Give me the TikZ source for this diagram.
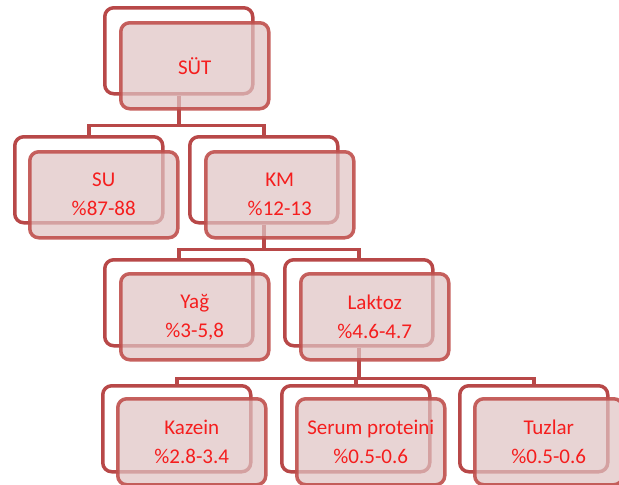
\documentclass[tikz,border=0pt]{standalone}
\usepackage{fontspec}
\setmainfont{Carlito}
\definecolor{backred}{RGB}{184,72,72}
\definecolor{frontred}{RGB}{192,80,77}
\definecolor{frontfill}{RGB}{224,196,196}
\definecolor{txtred}{RGB}{245,30,30}
\begin{document}
\begin{tikzpicture}[x=1pt,y=-1pt,
  backbox/.style={draw=backred, line width=3.5pt, fill=white, rounded corners=9pt,
    minimum width=148pt, minimum height=86pt, inner sep=0pt, anchor=north west},
  frontbox/.style={draw=frontred, draw opacity=0.9, line width=3.5pt, fill=frontfill,
    fill opacity=0.72, text opacity=1, rounded corners=9pt, text=txtred,
    minimum width=148pt, minimum height=86pt, inner sep=0pt, anchor=north west,
    align=center, font=\fontsize{21}{29}\selectfont},
  conn/.style={draw=backred, line width=3.5pt}]
\useasboundingbox (0,0) rectangle (619,485);
\clip (0,0) rectangle (619,485);

% back (outline) boxes
\node[backbox] (sutB) at (103,6) {};
\node[backbox] (suB) at (13,135) {};
\node[backbox] (kmB) at (188,135) {};
\node[backbox] (yagB) at (103,258) {};
\node[backbox] (lakB) at (283,258) {};
\node[backbox] (kazB) at (101,384) {};
\node[backbox] (serB) at (280,384) {};
\node[backbox] (tuzB) at (458,384) {};

% tree connectors
\draw[conn] (sutB.south) -- ++(0,30) -| (suB.north);
\draw[conn] (sutB.south) ++(0,30) -| (kmB.north);
\draw[conn] (kmB.south) -- ++(0,25) -| (yagB.north);
\draw[conn] (kmB.south) ++(0,25) -| (lakB.north);
\draw[conn] (lakB.south) -- ++(0,31) -| (kazB.north);
\draw[conn] (lakB.south) ++(0,31) -| (serB.north);
\draw[conn] (lakB.south) ++(0,31) -| (tuzB.north);

% front (filled) boxes with the labels
\node[frontbox] (sut) at (119,21) {SÜT};
\node[frontbox] (su) at (28,150) {SU\\\%87-88};
\node[frontbox] (km) at (204,150) {KM\\\%12-13};
\node[frontbox] (yag) at (119,272) {Yağ\\\%3-5,8};
\node[frontbox] (lak) at (299,272) {Laktoz\\\%4.6-4.7};
\node[frontbox] (kaz) at (116,397) {Kazein\\\%2.8-3.4};
\node[frontbox] (ser) at (295,397) {Serum proteini\\\%0.5-0.6};
\node[frontbox] (tuz) at (473,397) {Tuzlar\\\%0.5-0.6};
\end{tikzpicture}
\end{document}
